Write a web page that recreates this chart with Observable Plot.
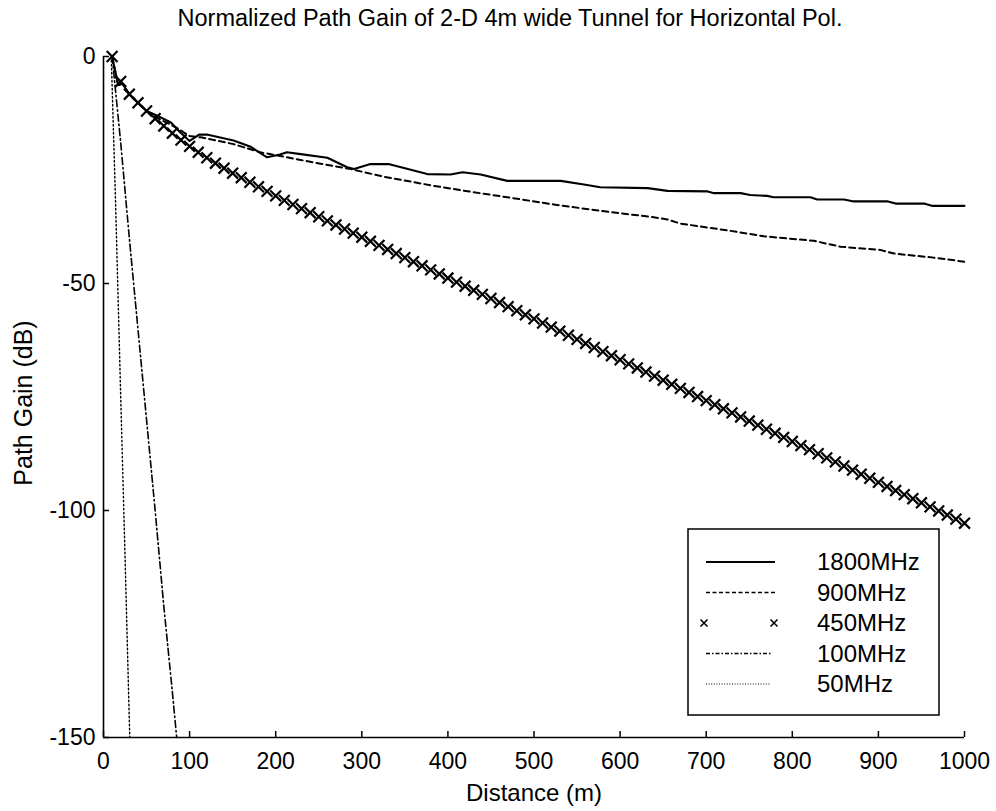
<!DOCTYPE html>
<html>
<head>
<meta charset="utf-8">
<script src="https://cdn.jsdelivr.net/npm/d3@7"></script>
<script src="https://cdn.jsdelivr.net/npm/@observablehq/plot@0.6"></script>
<style>
  body { margin: 0; background: #fff; }
  #wrap { position: relative; width: 996px; height: 811px; font-family: "Liberation Sans", Arial, sans-serif; }
  #title { position: absolute; left: 0; top: 0; width: 996px; padding-left: 24px; box-sizing: border-box;
           text-align: center; font-size: 23.5px; line-height: 36px; color: #000; }
  #chart { position: absolute; left: 0; top: 0; }
  #legend { position: absolute; left: 0; top: 0; }
</style>
</head>
<body>
<div id="wrap">
  <div id="chart"></div>
  <div id="title">Normalized Path Gain of 2-D 4m wide Tunnel for Horizontal Pol.</div>
</div>
<script>
const FONT = "Liberation Sans, Arial, sans-serif";

const seriesNames = ["1800MHz", "900MHz", "450MHz", "100MHz", "50MHz"];
const xTicks = [0, 100, 200, 300, 400, 500, 600, 700, 800, 900, 1000];
const yTicks = [0, -50, -100, -150];

const dist1800 = [10, 17, 22, 30, 40, 50, 62, 78, 89, 100, 105, 111, 120, 151, 171, 190, 205, 213, 229, 260, 283, 291, 310, 331, 376, 403, 417, 438, 469, 531, 558, 577, 632, 655, 701, 709, 740, 751, 771, 778, 821, 829, 860, 870, 910, 920, 953, 962, 1000];
const gain1800 = [0, -6.3, -6.0, -8.3, -10.2, -12.0, -13.0, -14.5, -16.7, -18.6, -18.0, -17.2, -17.2, -18.5, -19.9, -22.2, -21.6, -21.1, -21.5, -22.3, -24.4, -24.8, -23.7, -23.7, -25.9, -26.0, -25.5, -26.0, -27.4, -27.4, -28.2, -28.8, -29.0, -29.6, -29.7, -30.1, -30.1, -30.5, -30.7, -31.0, -31.0, -31.5, -31.5, -31.9, -31.9, -32.4, -32.4, -32.9, -32.9];

const dist900 = [10, 17, 22, 30, 40, 50, 62, 78, 88, 93, 100, 113, 151, 182, 202, 229, 252, 287, 326, 384, 430, 469, 523, 577, 639, 655, 670, 728, 767, 825, 856, 902, 918, 964, 1000];
const gain900 = [0, -6.3, -6.0, -8.3, -10.2, -12.0, -13.5, -15.0, -16.0, -16.7, -17.5, -17.8, -19.3, -21.1, -21.8, -22.8, -23.6, -24.8, -26.5, -28.5, -29.9, -31.0, -32.6, -34.0, -35.4, -35.9, -36.8, -38.4, -39.6, -40.6, -41.9, -42.6, -43.4, -44.3, -45.2];

const dist450 = [10, 20, 30, 40, 50, 60, 70, 80, 90, 100, 110, 120, 130, 140, 150, 160, 170, 180, 190, 200,
  210, 220, 230, 240, 250, 260, 270, 280, 290, 300, 310, 320, 330, 340, 350, 360, 370, 380, 390, 400,
  410, 420, 430, 440, 450, 460, 470, 480, 490, 500, 510, 520, 530, 540, 550, 560, 570, 580, 590, 600,
  610, 620, 630, 640, 650, 660, 670, 680, 690, 700, 710, 720, 730, 740, 750, 760, 770, 780, 790, 800,
  810, 820, 830, 840, 850, 860, 870, 880, 890, 900, 910, 920, 930, 940, 950, 960, 970, 980, 990, 1000];
const gain450 = [0, -5.5, -8.3, -10.2, -12.0, -13.7, -15.3, -16.9, -18.4, -19.8, -21.1, -22.3, -23.5, -24.6, -25.7, -26.7, -27.7, -28.7, -29.7, -30.7,
  -31.7, -32.6, -33.5, -34.4, -35.3, -36.2, -37.1, -38.0, -38.9, -39.8, -40.7, -41.6, -42.5, -43.4, -44.3, -45.2, -46.1, -47.0, -47.9, -48.8,
  -49.7, -50.6, -51.5, -52.4, -53.3, -54.2, -55.1, -56.0, -56.9, -57.8, -58.7, -59.6, -60.5, -61.4, -62.3, -63.2, -64.1, -65.0, -65.9, -66.8,
  -67.7, -68.6, -69.5, -70.4, -71.3, -72.2, -73.1, -74.0, -74.9, -75.8, -76.7, -77.6, -78.5, -79.4, -80.3, -81.2, -82.1, -83.0, -83.9, -84.8,
  -85.7, -86.6, -87.5, -88.4, -89.3, -90.2, -91.1, -92.0, -92.9, -93.8, -94.7, -95.6, -96.5, -97.4, -98.3, -99.2, -100.1, -101.0, -101.9, -102.8];

const dist100 = [10, 20, 30, 40, 50, 60, 70, 80, 85];
const gain100 = [0, -19, -40, -60, -80, -100, -121, -140, -150];

const dist50 = [9, 14, 20, 25, 30.5];
const gain50 = [0, -32, -75, -110, -150];

const rows = (ds, gs) => ds.map((d, i) => ({d, g: gs[i]}));

const chart = Plot.plot({
  width: 996,
  height: 811,
  marginTop: 56,
  marginBottom: 74,
  marginLeft: 103,
  marginRight: 32,
  x: {domain: [0, 1000]},
  y: {domain: [-150, 0]},
  style: {fontFamily: FONT, fontSize: "23px", color: "#000", background: "transparent"},
  marks: [
    Plot.ruleY([-150], {stroke: "#000", strokeWidth: 1.6}),
    Plot.ruleX([0], {stroke: "#000", strokeWidth: 1.6}),
    Plot.axisX({ticks: xTicks, tickSize: -6, tickPadding: 21, tickFormat: d => String(d), label: null, strokeWidth: 1.5}),
    Plot.axisY({ticks: yTicks, tickSize: -6, tickPadding: 14, tickFormat: d => String(d), label: null, strokeWidth: 1.5}),
    Plot.line(rows(dist50, gain50), {x: "d", y: "g", stroke: "#000", strokeWidth: 1.4, strokeDasharray: "1.5,2.5"}),
    Plot.line(rows(dist100, gain100), {x: "d", y: "g", stroke: "#000", strokeWidth: 1.6, strokeDasharray: "7,3,1.5,3"}),
    Plot.line(rows(dist900, gain900), {x: "d", y: "g", stroke: "#000", strokeWidth: 2, strokeDasharray: "6,4"}),
    Plot.line(rows(dist1800, gain1800), {x: "d", y: "g", stroke: "#000", strokeWidth: 2.1}),
    Plot.dot(rows(dist450, gain450), {x: "d", y: "g", symbol: "times", r: 5, stroke: "#000", strokeWidth: 2.2}),
    Plot.text(["Distance (m)"], {text: d => d, frameAnchor: "bottom", lineAnchor: "middle", dy: 56, fontSize: 24}),
    Plot.text(["Path Gain (dB)"], {text: d => d, frameAnchor: "left", textAnchor: "middle", lineAnchor: "middle", dx: -80, dy: 6, rotate: -90, fontSize: 25})
  ]
});
document.getElementById("chart").append(chart);

// Legend box (inside the plot area, lower right)
const legendStyles = [
  {kind: "line", dash: null, width: 1.8},
  {kind: "line", dash: "4,2.5", width: 1.6},
  {kind: "cross"},
  {kind: "line", dash: "4,2,1.5,2", width: 1.3},
  {kind: "line", dash: "1,1.6", width: 1.1}
];
const lg = d3.select("#wrap").append("svg")
  .attr("id", "legend").attr("width", 996).attr("height", 811)
  .style("position", "absolute").style("left", 0).style("top", 0);
lg.append("rect").attr("x", 688).attr("y", 529).attr("width", 251).attr("height", 186)
  .attr("fill", "#fff").attr("stroke", "#000").attr("stroke-width", 1.5);
seriesNames.forEach((name, i) => {
  const y = 562 + i * 30.5;
  const s = legendStyles[i];
  if (s.kind === "line") {
    lg.append("line").attr("x1", 706).attr("x2", i < 3 ? 775 : 771).attr("y1", y).attr("y2", y)
      .attr("stroke", "#000").attr("stroke-width", s.width).attr("stroke-dasharray", s.dash);
  } else {
    [704, 774].forEach(cx => {
      lg.append("path").attr("d", `M${cx - 3.5},${y - 3.5}L${cx + 3.5},${y + 3.5}M${cx - 3.5},${y + 3.5}L${cx + 3.5},${y - 3.5}`)
        .attr("stroke", "#000").attr("stroke-width", 1.6);
    });
  }
  lg.append("text").attr("x", 817).attr("y", y).attr("dy", "0.35em")
    .attr("font-family", FONT).attr("font-size", 24).attr("fill", "#000").text(name);
});
</script>
</body>
</html>
